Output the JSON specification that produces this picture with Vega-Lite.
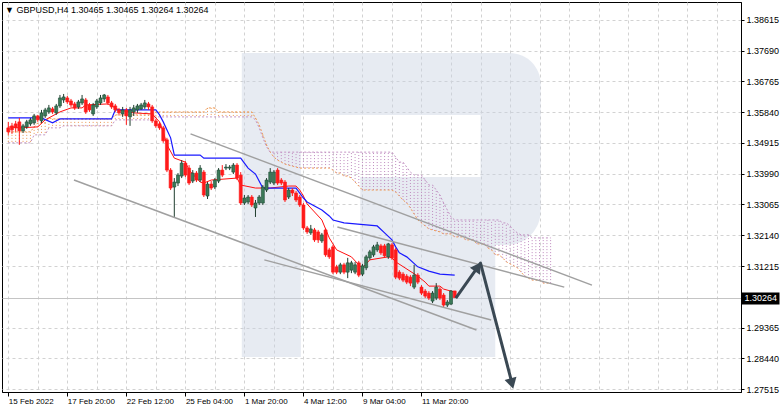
{
"$schema": "https://vega.github.io/schema/vega-lite/v6.json",
"width": 739, "height": 390,
"padding": {"left": 2, "top": 2, "right": 0, "bottom": 0},
"background": "#ffffff",
"title": {"text": "▼  GBPUSD,H4  1.30465 1.30465 1.30264 1.30264", "anchor": "start", "frame": "group", "orient": "top", "offset": -20, "baseline": "alphabetic", "dx": 3, "font": "Liberation Sans", "fontSize": 9, "fontWeight": "normal", "color": "#000000"},
"config": {"view": {"stroke": "#000000", "strokeWidth": 1}, "axis": {"labelFont": "Liberation Sans", "labelColor": "#000000", "domainColor": "#000000", "tickColor": "#000000", "title": null}},
"resolve": {"axis": {"x": "independent", "y": "independent"}},
"datasets": {
"wm": [{"x": 63.3, "x2": 79.3, "y": 1.2848, "y2": 1.3762}, {"x": 128.0, "x2": 144.3, "y": 1.3389, "y2": 1.3576}, {"x": 95.4, "x2": 132.0, "y": 1.2848, "y2": 1.3185}],
"wmtop": [{"x": 79.3, "x2": 144.3, "y": 1.3576, "y2": 1.3762}],
"wmbowl": [{"x": 95.4, "x2": 144.3, "y": 1.3185, "y2": 1.3389}],
"cloud": [
{"i":0,"a":1.3525,"b":1.3492},{"i":1,"a":1.3525,"b":1.3492},{"i":2,"a":1.3525,"b":1.3492},{"i":3,"a":1.3525,"b":1.3492},{"i":4,"a":1.3525,"b":1.3492},{"i":5,"a":1.3525,"b":1.3492},{"i":6,"a":1.3525,"b":1.3492},
{"i":7,"a":1.3540,"b":1.3516},{"i":8,"a":1.3552,"b":1.3516},{"i":9,"a":1.3552,"b":1.3516},{"i":10,"a":1.3552,"b":1.3516},
{"i":11,"a":1.3567,"b":1.3537},{"i":12,"a":1.3564,"b":1.3537},{"i":13,"a":1.3564,"b":1.3537},{"i":14,"a":1.3564,"b":1.3537},
{"i":15,"a":1.3564,"b":1.3543},{"i":16,"a":1.3564,"b":1.3543},{"i":17,"a":1.3564,"b":1.3543},{"i":18,"a":1.3564,"b":1.3543},{"i":19,"a":1.3564,"b":1.3543},{"i":20,"a":1.3564,"b":1.3543},{"i":21,"a":1.3564,"b":1.3543},{"i":22,"a":1.3564,"b":1.3543},{"i":23,"a":1.3564,"b":1.3543},{"i":24,"a":1.3564,"b":1.3543},{"i":25,"a":1.3564,"b":1.3543},{"i":26,"a":1.3564,"b":1.3543},{"i":27,"a":1.3564,"b":1.3543},{"i":28,"a":1.3564,"b":1.3543},
{"i":29,"a":1.3576,"b":1.3561},{"i":30,"a":1.3576,"b":1.3561},{"i":31,"a":1.3576,"b":1.3561},{"i":32,"a":1.3576,"b":1.3561},{"i":33,"a":1.3576,"b":1.3561},{"i":34,"a":1.3576,"b":1.3561},{"i":35,"a":1.3576,"b":1.3561},{"i":36,"a":1.3576,"b":1.3561},{"i":37,"a":1.3576,"b":1.3561},{"i":38,"a":1.3576,"b":1.3561},{"i":39,"a":1.3576,"b":1.3561},
{"i":40,"a":1.3585,"b":1.3570},{"i":41,"a":1.3585,"b":1.3570},{"i":42,"a":1.3585,"b":1.3570},{"i":43,"a":1.3585,"b":1.3570},{"i":44,"a":1.3585,"b":1.3570},{"i":45,"a":1.3585,"b":1.3570},{"i":46,"a":1.3585,"b":1.3570},{"i":47,"a":1.3585,"b":1.3570},{"i":48,"a":1.3585,"b":1.3570},{"i":49,"a":1.3585,"b":1.3570},{"i":50,"a":1.3585,"b":1.3570},{"i":51,"a":1.3585,"b":1.3570},{"i":52,"a":1.3585,"b":1.3570},{"i":53,"a":1.3585,"b":1.3570},
{"i":54,"a":1.3597,"b":1.3570},{"i":55,"a":1.3597,"b":1.3570},{"i":56,"a":1.3597,"b":1.3570},
{"i":57,"a":1.3585,"b":1.3570},{"i":58,"a":1.3585,"b":1.3570},{"i":59,"a":1.3585,"b":1.3570},{"i":60,"a":1.3585,"b":1.3570},{"i":61,"a":1.3585,"b":1.3570},{"i":62,"a":1.3585,"b":1.3570},{"i":63,"a":1.3585,"b":1.3570},{"i":64,"a":1.3585,"b":1.3570},{"i":65,"a":1.3585,"b":1.3570},{"i":66,"a":1.3585,"b":1.3570},
{"i":67,"a":1.3567,"b":1.3561},{"i":68,"a":1.3546,"b":1.3537},{"i":69,"a":1.3516,"b":1.3507},{"i":70,"a":1.3486,"b":1.3480},{"i":71,"a":1.3464,"b":1.3464},
{"i":72,"a":1.3449,"b":1.3464},{"i":73,"a":1.3440,"b":1.3464},{"i":74,"a":1.3434,"b":1.3464},{"i":75,"a":1.3428,"b":1.3464},{"i":76,"a":1.3425,"b":1.3464},{"i":77,"a":1.3422,"b":1.3464},{"i":78,"a":1.3419,"b":1.3464},
{"i":79,"a":1.3416,"b":1.3464},{"i":80,"a":1.3416,"b":1.3464},{"i":81,"a":1.3416,"b":1.3464},{"i":82,"a":1.3416,"b":1.3464},{"i":83,"a":1.3416,"b":1.3464},{"i":84,"a":1.3416,"b":1.3464},{"i":85,"a":1.3416,"b":1.3464},{"i":86,"a":1.3416,"b":1.3464},{"i":87,"a":1.3416,"b":1.3464},
{"i":88,"a":1.3410,"b":1.3464},{"i":89,"a":1.3401,"b":1.3464},{"i":90,"a":1.3401,"b":1.3464},{"i":91,"a":1.3392,"b":1.3464},{"i":92,"a":1.3392,"b":1.3464},{"i":93,"a":1.3386,"b":1.3464},{"i":94,"a":1.3374,"b":1.3464},{"i":95,"a":1.3362,"b":1.3464},
{"i":96,"a":1.3350,"b":1.3464},{"i":97,"a":1.3350,"b":1.3464},{"i":98,"a":1.3350,"b":1.3464},{"i":99,"a":1.3350,"b":1.3464},{"i":100,"a":1.3350,"b":1.3464},{"i":101,"a":1.3350,"b":1.3464},{"i":102,"a":1.3350,"b":1.3464},{"i":103,"a":1.3350,"b":1.3464},{"i":104,"a":1.3350,"b":1.3464},
{"i":105,"a":1.3344,"b":1.3449},{"i":106,"a":1.3332,"b":1.3434},{"i":107,"a":1.3320,"b":1.3434},{"i":108,"a":1.3311,"b":1.3419},{"i":109,"a":1.3296,"b":1.3404},{"i":110,"a":1.3278,"b":1.3395},{"i":111,"a":1.3260,"b":1.3395},{"i":112,"a":1.3251,"b":1.3395},
{"i":113,"a":1.3242,"b":1.3380},{"i":114,"a":1.3233,"b":1.3365},{"i":115,"a":1.3230,"b":1.3365},{"i":116,"a":1.3227,"b":1.3350},{"i":117,"a":1.3224,"b":1.3335},{"i":118,"a":1.3218,"b":1.3311},{"i":119,"a":1.3218,"b":1.3290},{"i":120,"a":1.3218,"b":1.3269},
{"i":121,"a":1.3209,"b":1.3260},{"i":122,"a":1.3209,"b":1.3260},{"i":123,"a":1.3209,"b":1.3260},{"i":124,"a":1.3200,"b":1.3260},{"i":125,"a":1.3200,"b":1.3260},{"i":126,"a":1.3200,"b":1.3260},{"i":127,"a":1.3188,"b":1.3260},{"i":128,"a":1.3188,"b":1.3260},{"i":129,"a":1.3188,"b":1.3260},
{"i":130,"a":1.3176,"b":1.3260},{"i":131,"a":1.3170,"b":1.3260},{"i":132,"a":1.3155,"b":1.3260},{"i":133,"a":1.3155,"b":1.3260},{"i":134,"a":1.3146,"b":1.3251},{"i":135,"a":1.3134,"b":1.3251},{"i":136,"a":1.3128,"b":1.3242},{"i":137,"a":1.3122,"b":1.3230},
{"i":138,"a":1.3116,"b":1.3221},{"i":139,"a":1.3103,"b":1.3215},{"i":140,"a":1.3091,"b":1.3215},{"i":141,"a":1.3085,"b":1.3215},{"i":142,"a":1.3079,"b":1.3206},{"i":143,"a":1.3079,"b":1.3206},{"i":144,"a":1.3079,"b":1.3206},{"i":145,"a":1.3070,"b":1.3206},{"i":146,"a":1.3070,"b":1.3206},{"i":147,"a":1.3070,"b":1.3206}
],
"tenkan": [
{"i":0,"v":1.3540},{"i":3,"v":1.3537},{"i":8,"v":1.3540},{"i":10,"v":1.3561},{"i":14,"v":1.3585},{"i":17,"v":1.3597},{"i":20,"v":1.3597},{"i":21,"v":1.3606},{"i":27,"v":1.3609},{"i":29,"v":1.3597},{"i":30,"v":1.3591},{"i":34,"v":1.3582},{"i":39,"v":1.3579},{"i":41,"v":1.3555},{"i":42,"v":1.3525},{"i":43,"v":1.3486},{"i":45,"v":1.3446},{"i":48,"v":1.3434},{"i":49,"v":1.3410},{"i":52,"v":1.3374},{"i":53,"v":1.3371},{"i":55,"v":1.3380},{"i":62,"v":1.3386},{"i":63,"v":1.3365},{"i":67,"v":1.3356},{"i":71,"v":1.3356},{"i":76,"v":1.3362},{"i":78,"v":1.3362},{"i":79,"v":1.3350},{"i":80,"v":1.3332},{"i":81,"v":1.3308},{"i":85,"v":1.3260},{"i":87,"v":1.3206},{"i":89,"v":1.3170},{"i":93,"v":1.3149},{"i":95,"v":1.3125},{"i":96,"v":1.3116},{"i":98,"v":1.3140},{"i":103,"v":1.3149},{"i":104,"v":1.3146},{"i":105,"v":1.3134},{"i":111,"v":1.3091},{"i":113,"v":1.3073},{"i":114,"v":1.3061},{"i":117,"v":1.3061},{"i":118,"v":1.3052},{"i":121,"v":1.3043}
],
"kijun": [
{"i":0,"v":1.3567},{"i":9,"v":1.3567},{"i":12,"v":1.3552},{"i":14,"v":1.3564},{"i":28,"v":1.3564},{"i":29,"v":1.3591},{"i":40,"v":1.3591},{"i":41,"v":1.3576},{"i":42,"v":1.3555},{"i":44,"v":1.3507},{"i":45,"v":1.3455},{"i":52,"v":1.3455},{"i":53,"v":1.3446},{"i":63,"v":1.3446},{"i":64,"v":1.3431},{"i":65,"v":1.3416},{"i":67,"v":1.3398},{"i":69,"v":1.3356},{"i":78,"v":1.3356},{"i":80,"v":1.3326},{"i":81,"v":1.3314},{"i":85,"v":1.3290},{"i":87,"v":1.3272},{"i":88,"v":1.3260},{"i":91,"v":1.3251},{"i":100,"v":1.3242},{"i":102,"v":1.3221},{"i":104,"v":1.3200},{"i":105,"v":1.3179},{"i":106,"v":1.3161},{"i":108,"v":1.3149},{"i":111,"v":1.3119},{"i":114,"v":1.3106},{"i":117,"v":1.3097},{"i":121,"v":1.3094}
],
"candles": [
{"i":0,"o":1.3537,"h":1.3555,"l":1.3516,"c":1.3525},{"i":1,"o":1.3543,"h":1.3552,"l":1.3519,"c":1.3531},{"i":2,"o":1.3549,"h":1.3558,"l":1.3525,"c":1.3537},{"i":3,"o":1.3555,"h":1.3567,"l":1.3486,"c":1.3528},{"i":4,"o":1.3528,"h":1.3549,"l":1.3522,"c":1.3543},{"i":5,"o":1.3540,"h":1.3561,"l":1.3534,"c":1.3555},{"i":6,"o":1.3549,"h":1.3567,"l":1.3543,"c":1.3561},{"i":7,"o":1.3552,"h":1.3579,"l":1.3546,"c":1.3573},{"i":8,"o":1.3573,"h":1.3576,"l":1.3555,"c":1.3561},{"i":9,"o":1.3558,"h":1.3591,"l":1.3552,"c":1.3582},
{"i":10,"o":1.3573,"h":1.3597,"l":1.3567,"c":1.3591},{"i":11,"o":1.3585,"h":1.3606,"l":1.3579,"c":1.3597},{"i":12,"o":1.3594,"h":1.3600,"l":1.3579,"c":1.3585},{"i":13,"o":1.3582,"h":1.3609,"l":1.3576,"c":1.3603},{"i":14,"o":1.3603,"h":1.3636,"l":1.3597,"c":1.3627},{"i":15,"o":1.3621,"h":1.3639,"l":1.3612,"c":1.3630},{"i":16,"o":1.3627,"h":1.3633,"l":1.3609,"c":1.3615},{"i":17,"o":1.3618,"h":1.3624,"l":1.3600,"c":1.3606},{"i":18,"o":1.3609,"h":1.3615,"l":1.3591,"c":1.3597},{"i":19,"o":1.3600,"h":1.3621,"l":1.3594,"c":1.3615},
{"i":20,"o":1.3612,"h":1.3636,"l":1.3606,"c":1.3624},{"i":21,"o":1.3621,"h":1.3627,"l":1.3579,"c":1.3585},{"i":22,"o":1.3606,"h":1.3612,"l":1.3585,"c":1.3591},{"i":23,"o":1.3579,"h":1.3612,"l":1.3573,"c":1.3606},{"i":24,"o":1.3600,"h":1.3624,"l":1.3594,"c":1.3618},{"i":25,"o":1.3612,"h":1.3636,"l":1.3606,"c":1.3627},{"i":26,"o":1.3624,"h":1.3639,"l":1.3615,"c":1.3636},{"i":27,"o":1.3630,"h":1.3636,"l":1.3606,"c":1.3612},{"i":28,"o":1.3612,"h":1.3618,"l":1.3594,"c":1.3600},{"i":29,"o":1.3603,"h":1.3609,"l":1.3585,"c":1.3591},
{"i":30,"o":1.3591,"h":1.3597,"l":1.3576,"c":1.3582},{"i":31,"o":1.3579,"h":1.3600,"l":1.3570,"c":1.3591},{"i":32,"o":1.3591,"h":1.3597,"l":1.3546,"c":1.3573},{"i":33,"o":1.3570,"h":1.3600,"l":1.3543,"c":1.3591},{"i":34,"o":1.3585,"h":1.3606,"l":1.3573,"c":1.3597},{"i":35,"o":1.3591,"h":1.3609,"l":1.3582,"c":1.3603},{"i":36,"o":1.3594,"h":1.3612,"l":1.3591,"c":1.3606},{"i":37,"o":1.3600,"h":1.3621,"l":1.3594,"c":1.3612},{"i":38,"o":1.3609,"h":1.3615,"l":1.3591,"c":1.3600},{"i":39,"o":1.3600,"h":1.3606,"l":1.3552,"c":1.3558},
{"i":40,"o":1.3558,"h":1.3564,"l":1.3537,"c":1.3543},{"i":41,"o":1.3549,"h":1.3555,"l":1.3531,"c":1.3537},{"i":42,"o":1.3537,"h":1.3543,"l":1.3492,"c":1.3498},{"i":43,"o":1.3501,"h":1.3507,"l":1.3404,"c":1.3410},{"i":44,"o":1.3410,"h":1.3416,"l":1.3350,"c":1.3356},{"i":45,"o":1.3359,"h":1.3386,"l":1.3269,"c":1.3374},{"i":46,"o":1.3371,"h":1.3401,"l":1.3362,"c":1.3395},{"i":47,"o":1.3392,"h":1.3440,"l":1.3386,"c":1.3431},{"i":48,"o":1.3431,"h":1.3437,"l":1.3389,"c":1.3395},{"i":49,"o":1.3416,"h":1.3425,"l":1.3365,"c":1.3371},
{"i":50,"o":1.3377,"h":1.3410,"l":1.3371,"c":1.3401},{"i":51,"o":1.3401,"h":1.3407,"l":1.3374,"c":1.3380},{"i":52,"o":1.3380,"h":1.3425,"l":1.3374,"c":1.3416},{"i":53,"o":1.3404,"h":1.3410,"l":1.3329,"c":1.3335},{"i":54,"o":1.3332,"h":1.3374,"l":1.3323,"c":1.3368},{"i":55,"o":1.3368,"h":1.3377,"l":1.3350,"c":1.3356},{"i":56,"o":1.3359,"h":1.3386,"l":1.3353,"c":1.3380},{"i":57,"o":1.3377,"h":1.3416,"l":1.3371,"c":1.3410},{"i":58,"o":1.3410,"h":1.3425,"l":1.3389,"c":1.3395},{"i":59,"o":1.3416,"h":1.3428,"l":1.3410,"c":1.3419},
{"i":60,"o":1.3416,"h":1.3425,"l":1.3410,"c":1.3419},{"i":61,"o":1.3404,"h":1.3431,"l":1.3398,"c":1.3425},{"i":62,"o":1.3425,"h":1.3431,"l":1.3380,"c":1.3386},{"i":63,"o":1.3395,"h":1.3404,"l":1.3305,"c":1.3311},{"i":64,"o":1.3311,"h":1.3335,"l":1.3305,"c":1.3326},{"i":65,"o":1.3314,"h":1.3335,"l":1.3308,"c":1.3329},{"i":66,"o":1.3329,"h":1.3335,"l":1.3299,"c":1.3305},{"i":67,"o":1.3296,"h":1.3320,"l":1.3269,"c":1.3311},{"i":68,"o":1.3311,"h":1.3335,"l":1.3305,"c":1.3329},{"i":69,"o":1.3311,"h":1.3365,"l":1.3305,"c":1.3359},
{"i":70,"o":1.3350,"h":1.3386,"l":1.3344,"c":1.3380},{"i":71,"o":1.3374,"h":1.3416,"l":1.3368,"c":1.3404},{"i":72,"o":1.3371,"h":1.3410,"l":1.3365,"c":1.3404},{"i":73,"o":1.3410,"h":1.3416,"l":1.3365,"c":1.3371},{"i":74,"o":1.3380,"h":1.3386,"l":1.3365,"c":1.3371},{"i":75,"o":1.3374,"h":1.3380,"l":1.3314,"c":1.3320},{"i":76,"o":1.3329,"h":1.3356,"l":1.3323,"c":1.3350},{"i":77,"o":1.3350,"h":1.3356,"l":1.3332,"c":1.3341},{"i":78,"o":1.3341,"h":1.3347,"l":1.3314,"c":1.3320},{"i":79,"o":1.3329,"h":1.3335,"l":1.3299,"c":1.3305},
{"i":80,"o":1.3305,"h":1.3311,"l":1.3230,"c":1.3236},{"i":81,"o":1.3236,"h":1.3242,"l":1.3218,"c":1.3224},{"i":82,"o":1.3221,"h":1.3245,"l":1.3215,"c":1.3233},{"i":83,"o":1.3230,"h":1.3236,"l":1.3194,"c":1.3200},{"i":84,"o":1.3224,"h":1.3230,"l":1.3191,"c":1.3200},{"i":85,"o":1.3197,"h":1.3221,"l":1.3191,"c":1.3215},{"i":86,"o":1.3230,"h":1.3236,"l":1.3149,"c":1.3155},{"i":87,"o":1.3170,"h":1.3176,"l":1.3143,"c":1.3149},{"i":88,"o":1.3179,"h":1.3185,"l":1.3097,"c":1.3103},{"i":89,"o":1.3119,"h":1.3125,"l":1.3097,"c":1.3103},
{"i":90,"o":1.3103,"h":1.3131,"l":1.3097,"c":1.3125},{"i":91,"o":1.3125,"h":1.3131,"l":1.3097,"c":1.3103},{"i":92,"o":1.3103,"h":1.3146,"l":1.3085,"c":1.3131},{"i":93,"o":1.3109,"h":1.3137,"l":1.3100,"c":1.3131},{"i":94,"o":1.3103,"h":1.3134,"l":1.3097,"c":1.3125},{"i":95,"o":1.3131,"h":1.3137,"l":1.3088,"c":1.3094},{"i":96,"o":1.3097,"h":1.3128,"l":1.3091,"c":1.3122},{"i":97,"o":1.3116,"h":1.3155,"l":1.3109,"c":1.3149},{"i":98,"o":1.3146,"h":1.3170,"l":1.3140,"c":1.3164},{"i":99,"o":1.3155,"h":1.3185,"l":1.3149,"c":1.3179},
{"i":100,"o":1.3170,"h":1.3194,"l":1.3164,"c":1.3185},{"i":101,"o":1.3182,"h":1.3188,"l":1.3155,"c":1.3161},{"i":102,"o":1.3182,"h":1.3188,"l":1.3146,"c":1.3152},{"i":103,"o":1.3149,"h":1.3191,"l":1.3143,"c":1.3188},{"i":104,"o":1.3185,"h":1.3191,"l":1.3140,"c":1.3146},{"i":105,"o":1.3170,"h":1.3176,"l":1.3082,"c":1.3088},{"i":106,"o":1.3103,"h":1.3109,"l":1.3079,"c":1.3085},{"i":107,"o":1.3097,"h":1.3103,"l":1.3073,"c":1.3079},{"i":108,"o":1.3091,"h":1.3097,"l":1.3067,"c":1.3073},{"i":109,"o":1.3088,"h":1.3094,"l":1.3061,"c":1.3070},
{"i":110,"o":1.3058,"h":1.3125,"l":1.3052,"c":1.3094},{"i":111,"o":1.3094,"h":1.3100,"l":1.3067,"c":1.3073},{"i":112,"o":1.3058,"h":1.3064,"l":1.3034,"c":1.3040},{"i":113,"o":1.3046,"h":1.3052,"l":1.3025,"c":1.3031},{"i":114,"o":1.3040,"h":1.3046,"l":1.3019,"c":1.3025},{"i":115,"o":1.3016,"h":1.3046,"l":1.3010,"c":1.3040},{"i":116,"o":1.3025,"h":1.3070,"l":1.3019,"c":1.3058},{"i":117,"o":1.3052,"h":1.3058,"l":1.3019,"c":1.3025},{"i":118,"o":1.3034,"h":1.3040,"l":1.2998,"c":1.3004},{"i":119,"o":1.3004,"h":1.3019,"l":1.2998,"c":1.3013},
{"i":120,"o":1.3007,"h":1.3049,"l":1.3004,"c":1.30465},{"i":121,"o":1.30465,"h":1.30465,"l":1.30264,"c":1.30264}
],
"channels": [{"id":1,"i":49.4,"p":1.3519},{"id":1,"i":158.2,"p":1.3064},{"id":2,"i":17.8,"p":1.3380},{"id":2,"i":126.9,"p":1.2929},{"id":3,"i":69.4,"p":1.3140},{"id":3,"i":130.9,"p":1.2959},{"id":4,"i":89.2,"p":1.3239},{"id":4,"i":150.7,"p":1.3058}],
"arrow": [{"i":121.3,"p":1.3025},{"i":128.0,"p":1.3130},{"i":136.3,"p":1.2779}],
"head1": [{"i":127.3,"p":1.3119}],
"head2": [{"i":136.5,"p":1.2768}]
},
"layer": [
{"data": {"name": "wm"}, "mark": {"type": "rect", "color": "#c9d3e3", "fillOpacity": 0.45, "strokeWidth": 0},
 "encoding": {"x": {"field": "x", "type": "quantitative", "scale": {"domain": [-0.35, 197.25], "nice": false, "zero": false},
   "axis": {"orient": "bottom", "values": [0,8,16,24,32,40,48,56,64,72,80,88,96,104,112,120,128,136,144,152,160,168,176,184,192], "grid": true, "gridDash": [3, 3], "gridColor": "#d2d2d2", "gridWidth": 1, "ticks": false, "labels": false, "domain": true}},
  "x2": {"field": "x2"}, "y": {"field": "y", "type": "quantitative", "scale": {"domain": [1.27425, 1.39156], "nice": false, "zero": false}, "axis": null}, "y2": {"field": "y2"}}},
{"data": {"name": "wmtop"}, "mark": {"type": "rect", "color": "#c9d3e3", "fillOpacity": 0.45, "strokeWidth": 0, "cornerRadiusTopRight": 48},
 "encoding": {"x": {"field": "x", "type": "quantitative", "scale": {"domain": [-0.35, 197.25], "nice": false, "zero": false}, "axis": null}, "x2": {"field": "x2"}, "y": {"field": "y", "type": "quantitative", "scale": {"domain": [1.27425, 1.39156], "nice": false, "zero": false}, "axis": null}, "y2": {"field": "y2"}}},
{"data": {"name": "wmbowl"}, "mark": {"type": "rect", "color": "#c9d3e3", "fillOpacity": 0.45, "strokeWidth": 0, "cornerRadiusBottomRight": 40},
 "encoding": {"x": {"field": "x", "type": "quantitative", "scale": {"domain": [-0.35, 197.25], "nice": false, "zero": false}, "axis": null}, "x2": {"field": "x2"}, "y": {"field": "y", "type": "quantitative", "scale": {"domain": [1.27425, 1.39156], "nice": false, "zero": false}, "axis": null}, "y2": {"field": "y2"}}},
{"data": {"name": "cloud"}, "mark": {"type": "rule", "strokeDash": [1, 2], "strokeWidth": 1},
 "encoding": {"x": {"field": "i", "type": "quantitative", "scale": {"domain": [-0.35, 197.25], "nice": false, "zero": false}, "axis": null}, "y": {"field": "a", "type": "quantitative", "scale": {"domain": [1.27425, 1.39156], "nice": false, "zero": false}, "axis": null}, "y2": {"field": "b"},
  "color": {"condition": {"test": "datum.a >= datum.b", "value": "#eb9650"}, "value": "#bf8abf"}}},
{"data": {"name": "cloud"}, "mark": {"type": "line", "strokeDash": [2, 2], "strokeWidth": 1, "color": "#ee9a55"},
 "encoding": {"x": {"field": "i", "type": "quantitative", "scale": {"domain": [-0.35, 197.25], "nice": false, "zero": false}, "axis": null}, "y": {"field": "a", "type": "quantitative", "scale": {"domain": [1.27425, 1.39156], "nice": false, "zero": false}, "axis": null}}},
{"data": {"name": "cloud"}, "mark": {"type": "line", "strokeDash": [2, 2], "strokeWidth": 1, "color": "#c393c3"},
 "encoding": {"x": {"field": "i", "type": "quantitative", "scale": {"domain": [-0.35, 197.25], "nice": false, "zero": false}, "axis": null}, "y": {"field": "b", "type": "quantitative", "scale": {"domain": [1.27425, 1.39156], "nice": false, "zero": false}, "axis": null}}},
{"data": {"name": "tenkan"}, "mark": {"type": "line", "strokeWidth": 1, "color": "#ff1010"},
 "encoding": {"x": {"field": "i", "type": "quantitative", "scale": {"domain": [-0.35, 197.25], "nice": false, "zero": false}, "axis": null}, "y": {"field": "v", "type": "quantitative", "scale": {"domain": [1.27425, 1.39156], "nice": false, "zero": false}, "axis": null}}},
{"data": {"name": "kijun"}, "mark": {"type": "line", "strokeWidth": 1.2, "color": "#1a1aff"},
 "encoding": {"x": {"field": "i", "type": "quantitative", "scale": {"domain": [-0.35, 197.25], "nice": false, "zero": false}, "axis": null}, "y": {"field": "v", "type": "quantitative", "scale": {"domain": [1.27425, 1.39156], "nice": false, "zero": false}, "axis": null}}},
{"data": {"name": "candles"}, "mark": {"type": "rule", "strokeWidth": 1},
 "encoding": {"x": {"field": "i", "type": "quantitative", "scale": {"domain": [-0.35, 197.25], "nice": false, "zero": false},
   "axis": {"orient": "bottom", "values": [0,16,32,48,64,80,96,112], "grid": false, "domain": false, "ticks": true, "tickSize": 4,
     "labelExpr": "datum.value == 0 ? '15 Feb 2022' : datum.value == 16 ? '17 Feb 20:00' : datum.value == 32 ? '22 Feb 12:00' : datum.value == 48 ? '25 Feb 04:00' : datum.value == 64 ? '1 Mar 20:00' : datum.value == 80 ? '4 Mar 12:00' : datum.value == 96 ? '9 Mar 04:00' : '11 Mar 20:00'",
     "labelAlign": "left", "labelBaseline": "top", "labelPadding": 1, "labelFontSize": 8, "labelOverlap": false, "labelFlush": false, "labelBound": false}},
  "y": {"field": "l", "type": "quantitative", "scale": {"domain": [1.27425, 1.39156], "nice": false, "zero": false},
   "axis": {"orient": "right", "values": [1.27515, 1.2844, 1.29365, 1.31215, 1.3214, 1.33065, 1.3399, 1.34915, 1.3584, 1.36765, 1.3769, 1.38615], "format": ".5f", "grid": true, "gridDash": [3, 3], "gridColor": "#d2d2d2", "tickSize": 3, "labelPadding": 2, "labelFontSize": 9, "labelOverlap": false, "labelFlush": false, "labelBound": false}},
  "y2": {"field": "h"},
  "color": {"condition": {"test": "datum.c >= datum.o", "value": "#1f3d2e"}, "value": "#ff1a1a"}}},
{"data": {"name": "candles"}, "mark": {"type": "bar", "size": 3, "strokeWidth": 0.6},
 "encoding": {"x": {"field": "i", "type": "quantitative", "scale": {"domain": [-0.35, 197.25], "nice": false, "zero": false}, "axis": null},
  "y": {"field": "o", "type": "quantitative", "scale": {"domain": [1.27425, 1.39156], "nice": false, "zero": false},
   "axis": {"orient": "right", "values": [1.30264], "format": ".5f", "grid": true, "gridColor": "#c4c4c4", "gridDash": [], "gridWidth": 1, "domain": false, "tickSize": 38, "tickWidth": 12, "tickColor": "#000000", "labelColor": "#ffffff", "labelPadding": -35, "labelFontSize": 9, "labelOverlap": false, "labelFlush": false, "labelBound": false}},
  "y2": {"field": "c"},
  "fill": {"condition": {"test": "datum.c >= datum.o", "value": "#3b7a58"}, "value": "#ff1a1a"},
  "stroke": {"condition": {"test": "datum.c >= datum.o", "value": "#1f4a35"}, "value": "#ff1a1a"}}},
{"data": {"name": "channels"}, "mark": {"type": "line", "strokeWidth": 1.5, "color": "#a0a0a0"},
 "encoding": {"x": {"field": "i", "type": "quantitative", "scale": {"domain": [-0.35, 197.25], "nice": false, "zero": false}, "axis": null}, "y": {"field": "p", "type": "quantitative", "scale": {"domain": [1.27425, 1.39156], "nice": false, "zero": false}, "axis": null}, "detail": {"field": "id", "type": "nominal"}}},
{"data": {"name": "arrow"}, "mark": {"type": "line", "strokeWidth": 3, "color": "#3a4853", "strokeJoin": "round"},
 "encoding": {"x": {"field": "i", "type": "quantitative", "scale": {"domain": [-0.35, 197.25], "nice": false, "zero": false}, "axis": null}, "y": {"field": "p", "type": "quantitative", "scale": {"domain": [1.27425, 1.39156], "nice": false, "zero": false}, "axis": null}}},
{"data": {"name": "head1"}, "mark": {"type": "point", "shape": "triangle-up", "filled": true, "size": 150, "angle": 34.5, "color": "#3a4853", "opacity": 1},
 "encoding": {"x": {"field": "i", "type": "quantitative", "scale": {"domain": [-0.35, 197.25], "nice": false, "zero": false}, "axis": null}, "y": {"field": "p", "type": "quantitative", "scale": {"domain": [1.27425, 1.39156], "nice": false, "zero": false}, "axis": null}}},
{"data": {"name": "head2"}, "mark": {"type": "point", "shape": "triangle-up", "filled": true, "size": 150, "angle": 165.2, "color": "#3a4853", "opacity": 1},
 "encoding": {"x": {"field": "i", "type": "quantitative", "scale": {"domain": [-0.35, 197.25], "nice": false, "zero": false}, "axis": null}, "y": {"field": "p", "type": "quantitative", "scale": {"domain": [1.27425, 1.39156], "nice": false, "zero": false}, "axis": null}}}
]
}
